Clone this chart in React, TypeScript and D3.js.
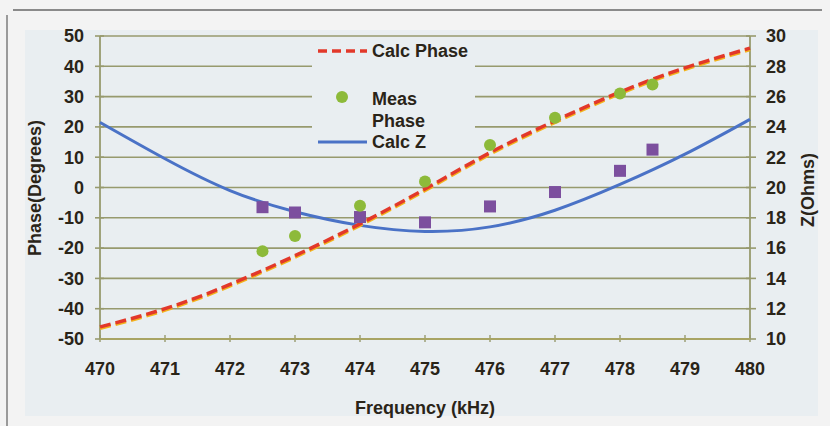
import * as d3 from 'd3';

const freqTicks = [470, 471, 472, 473, 474, 475, 476, 477, 478, 479, 480];
const phaseTicks = [50, 40, 30, 20, 10, 0, -10, -20, -30, -40, -50];
const zTicks = [30, 28, 26, 24, 22, 20, 18, 16, 14, 12, 10];

// calculated curves, 1 kHz steps
const calcFreq = [470, 471, 472, 473, 474, 475, 476, 477, 478, 479, 480];
const calcPhase = [-46, -40, -32, -22.5, -12, -0.5, 11.5, 22, 31.5, 39.5, 46];
const calcZ = [24.3, 21.9, 19.8, 18.4, 17.5, 17.1, 17.4, 18.5, 20.2, 22.2, 24.5];

// measured points
const measFreq = [472.5, 473, 474, 475, 476, 477, 478, 478.5];
const measPhase = [-21, -16, -6, 2, 14, 23, 31, 34];
const measZ = [18.7, 18.35, 18.05, 17.7, 18.75, 19.7, 21.1, 22.5];

const W = 830;
const H = 426;
const plot = { left: 100, right: 750, top: 36, bottom: 339 };

const bg = '#e9eef1';
const gridColor = '#979a6e';
const textColor = '#2a2418';
const font = '"Liberation Sans", Arial, sans-serif';

export default function App() {
  const x = d3.scaleLinear().domain([470, 480]).range([plot.left, plot.right]);
  const yP = d3.scaleLinear().domain([-50, 50]).range([plot.bottom, plot.top]);
  const yZ = d3.scaleLinear().domain([10, 30]).range([plot.bottom, plot.top]);

  const phasePts: [number, number][] = calcFreq.map((f, i) => [f, calcPhase[i]]);
  const zPts: [number, number][] = calcFreq.map((f, i) => [f, calcZ[i]]);

  const phaseLine = d3.line<[number, number]>()
    .x(d => x(d[0]))
    .y(d => yP(d[1]))
    .curve(d3.curveNatural);
  const zLine = d3.line<[number, number]>()
    .x(d => x(d[0]))
    .y(d => yZ(d[1]))
    .curve(d3.curveNatural);

  const tickStyle = { fontFamily: font, fontWeight: 700, fontSize: 18, fill: textColor };

  return (
    <svg width={W} height={H} style={{ position: 'absolute', left: 0, top: 0 }}>
      <rect x={0} y={0} width={W} height={H} fill="#f3f3f3" />
      <line x1={13} x2={822} y1={10} y2={10} stroke="#8a8a8a" strokeWidth={2} />
      <line x1={7} x2={7} y1={15} y2={H} stroke="#9a9a9a" strokeWidth={2} />
      <rect x={25} y={30} width={793} height={386} fill={bg} />

      {/* grid */}
      {phaseTicks.map(t => (
        <g key={t}>
          <line x1={plot.left} x2={plot.right} y1={yP(t)} y2={yP(t)} stroke={gridColor} strokeWidth={1.6} />
          <line x1={plot.left - 5} x2={plot.left + 4} y1={yP(t)} y2={yP(t)} stroke={gridColor} strokeWidth={1.6} />
          <line x1={plot.right - 4} x2={plot.right + 6} y1={yP(t)} y2={yP(t)} stroke={gridColor} strokeWidth={1.6} />
        </g>
      ))}
      {freqTicks.map(t => (
        <line key={t} x1={x(t)} x2={x(t)} y1={plot.bottom - 4} y2={plot.bottom + 3} stroke={gridColor} strokeWidth={1.4} />
      ))}
      <line x1={plot.left} x2={plot.left} y1={plot.top} y2={plot.bottom} stroke={gridColor} strokeWidth={1.8} />
      <line x1={plot.right} x2={plot.right} y1={plot.top} y2={plot.bottom} stroke={gridColor} strokeWidth={1.8} />
      <line x1={plot.left} x2={plot.right} y1={plot.bottom} y2={plot.bottom} stroke="#a8a464" strokeWidth={2} />

      {/* legend box hides grid */}
      <rect x={312} y={40} width={163} height={110} fill={bg} />

      {/* calc Z */}
      <path d={zLine(zPts) || ''} fill="none" stroke="#4a72c6" strokeWidth={3} />

      {/* calc phase: yellow shadow + red dashes */}
      <path d={phaseLine(phasePts) || ''} fill="none" stroke="#f2b31c" strokeWidth={3.5}
        strokeDasharray="11 5" transform="translate(0,1.5)" />
      <path d={phaseLine(phasePts) || ''} fill="none" stroke="#e2382a" strokeWidth={3.5}
        strokeDasharray="11 5" />

      {/* measured */}
      {measFreq.map((f, i) => (
        <rect key={'z' + f} x={x(f) - 6} y={yZ(measZ[i]) - 6} width={12} height={12} fill="#7c4f9e" />
      ))}
      {measFreq.map((f, i) => (
        <circle key={'p' + f} cx={x(f)} cy={yP(measPhase[i])} r={6} fill="#8dba3a" />
      ))}

      {/* tick labels */}
      {phaseTicks.map(t => (
        <text key={t} x={84} y={yP(t)} dy="0.35em" textAnchor="end" {...tickStyle}>{t}</text>
      ))}
      {zTicks.map(t => (
        <text key={t} x={766} y={yZ(t)} dy="0.35em" textAnchor="start" {...tickStyle}>{t}</text>
      ))}
      {freqTicks.map(t => (
        <text key={t} x={x(t)} y={369} dy="0.35em" textAnchor="middle" {...tickStyle}>{t}</text>
      ))}

      {/* axis titles */}
      <text transform="translate(35,188) rotate(-90)" dy="0.35em" textAnchor="middle" {...tickStyle}>Phase(Degrees)</text>
      <text transform="translate(808,190) rotate(-90)" dy="0.35em" textAnchor="middle" {...tickStyle}>Z(Ohms)</text>
      <text x={425} y={408} dy="0.35em" textAnchor="middle" {...tickStyle}>Frequency (kHz)</text>

      {/* legend */}
      <line x1={318} x2={367} y1={51} y2={51} stroke="#e2382a" strokeWidth={3.5} strokeDasharray="9 5" />
      <text x={372} y={51} dy="0.35em" {...tickStyle}>Calc Phase</text>
      <circle cx={342} cy={97} r={6} fill="#8dba3a" />
      <text x={372} y={99} dy="0.35em" {...tickStyle}>Meas</text>
      <text x={372} y={121} dy="0.35em" {...tickStyle}>Phase</text>
      <line x1={318} x2={367} y1={142} y2={142} stroke="#4a72c6" strokeWidth={3} />
      <text x={372} y={142} dy="0.35em" {...tickStyle}>Calc Z</text>
    </svg>
  );
}
